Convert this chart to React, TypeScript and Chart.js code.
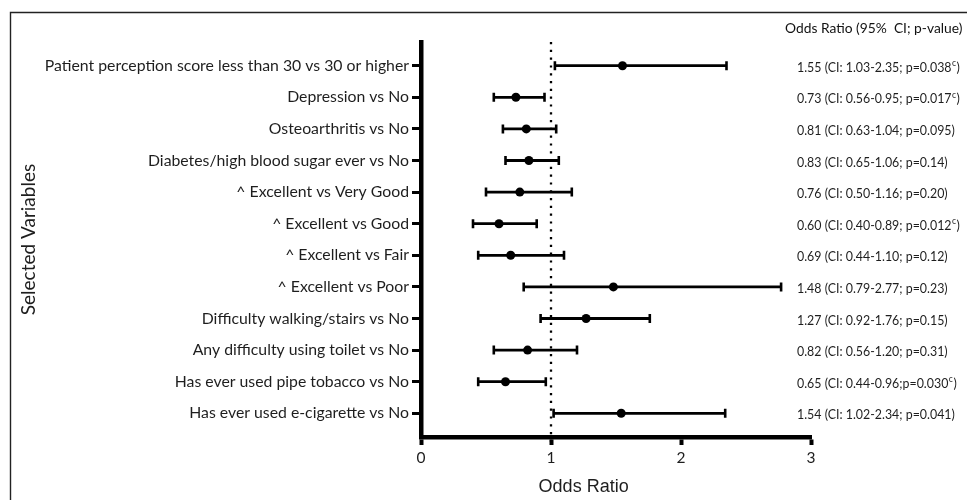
import React, { useEffect, useRef } from "react";
import { Chart, registerables } from "chart.js";

Chart.register(...registerables);

// ---- Data ----
const variables = [
  "Patient perception score less than 30 vs 30 or higher",
  "Depression vs No",
  "Osteoarthritis vs No",
  "Diabetes/high blood sugar ever vs No",
  "^ Excellent vs Very Good",
  "^ Excellent vs Good",
  "^ Excellent vs Fair",
  "^ Excellent vs Poor",
  "Difficulty walking/stairs vs No",
  "Any difficulty using toilet vs No",
  "Has ever used pipe tobacco vs No",
  "Has ever used e-cigarette vs No",
];
const oddsRatios = [1.55, 0.73, 0.81, 0.83, 0.76, 0.6, 0.69, 1.48, 1.27, 0.82, 0.65, 1.54];
const ciLower = [1.03, 0.56, 0.63, 0.65, 0.5, 0.4, 0.44, 0.79, 0.92, 0.56, 0.44, 1.02];
const ciUpper = [2.35, 0.95, 1.04, 1.06, 1.16, 0.89, 1.1, 2.77, 1.76, 1.2, 0.96, 2.34];
const annotationTexts = [
  "1.55 (CI: 1.03-2.35; p=0.038",
  "0.73 (CI: 0.56-0.95; p=0.017",
  "0.81 (CI: 0.63-1.04; p=0.095",
  "0.83 (CI: 0.65-1.06; p=0.14",
  "0.76 (CI: 0.50-1.16; p=0.20",
  "0.60 (CI: 0.40-0.89; p=0.012",
  "0.69 (CI: 0.44-1.10; p=0.12",
  "1.48 (CI: 0.79-2.77; p=0.23",
  "1.27 (CI: 0.92-1.76; p=0.15",
  "0.82 (CI: 0.56-1.20; p=0.31",
  "0.65 (CI: 0.44-0.96;p=0.030",
  "1.54 (CI: 1.02-2.34; p=0.041",
];
const annotationSignificant = [true, true, false, false, false, true, false, false, false, false, true, false];
const annotationHeader = "Odds Ratio (95%  CI; p-value)";
const xTickValues = [0, 1, 2, 3];
const referenceValue = 1;
const xTitle = "Odds Ratio";
const yTitle = "Selected Variables";

const TEXT = "#1e1e1e";
const LABEL_FONT = "Lato";

const overlayPlugin = {
  id: "overlay",
  beforeDraw(chart: any) {
    const ctx = chart.ctx;
    ctx.save();
    ctx.fillStyle = "#fff";
    ctx.fillRect(0, 0, chart.width, chart.height);
    ctx.strokeStyle = "#222";
    ctx.lineWidth = 1.4;
    ctx.beginPath();
    ctx.moveTo(10.5, chart.height);
    ctx.lineTo(10.5, 12.5);
    ctx.lineTo(chart.width, 12.5);
    ctx.stroke();
    ctx.restore();
  },
  beforeDatasetsDraw(chart: any) {
    const ctx = chart.ctx;
    const xs = chart.scales.x;
    const ys = chart.scales.y;
    const area = chart.chartArea;
    ctx.save();
    // reference line
    const rx = xs.getPixelForValue(referenceValue);
    ctx.strokeStyle = "#000";
    ctx.lineWidth = 2.3;
    ctx.setLineDash([2.2, 5.6]);
    ctx.beginPath();
    ctx.moveTo(rx, area.top);
    ctx.lineTo(rx, area.bottom + 8);
    ctx.stroke();
    ctx.setLineDash([]);
    // error bars
    for (let i = 0; i < oddsRatios.length; i++) {
      const y = ys.getPixelForValue(i + 1);
      const x1 = xs.getPixelForValue(ciLower[i]);
      const x2 = xs.getPixelForValue(ciUpper[i]);
      ctx.lineWidth = 2.8;
      ctx.beginPath();
      ctx.moveTo(x1, y);
      ctx.lineTo(x2, y);
      ctx.stroke();
      ctx.lineWidth = 2.6;
      ctx.beginPath();
      ctx.moveTo(x1, y - 4.5);
      ctx.lineTo(x1, y + 4.5);
      ctx.moveTo(x2, y - 4.5);
      ctx.lineTo(x2, y + 4.5);
      ctx.stroke();
    }
    ctx.restore();
  },
  afterDraw(chart: any) {
    const ctx = chart.ctx;
    const ys = chart.scales.y;
    const area = chart.chartArea;
    ctx.save();
    // header
    ctx.fillStyle = "#111";
    ctx.textBaseline = "middle";
    ctx.textAlign = "left";
    ctx.font = `13.8px ${LABEL_FONT}`;
    ctx.fillText(annotationHeader, 785, 29);
    // annotations
    const mainFont = `12.4px ${LABEL_FONT}`;
    const supFont = `8.5px ${LABEL_FONT}`;
    for (let i = 0; i < annotationTexts.length; i++) {
      const y = ys.getPixelForValue(i + 1) + 2;
      let x = 797;
      ctx.font = mainFont;
      ctx.fillStyle = TEXT;
      ctx.fillText(annotationTexts[i], x, y);
      x += ctx.measureText(annotationTexts[i]).width;
      if (annotationSignificant[i]) {
        ctx.font = supFont;
        ctx.fillText("c", x + 0.5, y - 4);
        x += ctx.measureText("c").width + 1;
        ctx.font = mainFont;
      }
      ctx.fillText(")", x, y);
    }
    // x title
    ctx.font = `18px "Liberation Sans"`;
    ctx.textAlign = "center";
    ctx.fillStyle = TEXT;
    ctx.fillText(xTitle, area.left + (area.right - area.left) * 0.417, 487);
    ctx.restore();
  },
};

export default function App() {
  const ref = useRef<HTMLCanvasElement | null>(null);
  useEffect(() => {
    if (!ref.current) return;
    const chart = new Chart(ref.current, {
      type: "scatter",
      data: {
        datasets: [
          {
            data: oddsRatios.map((v, i) => ({ x: v, y: i + 1 })),
            pointRadius: 4.5,
            pointHoverRadius: 4.5,
            backgroundColor: "#000",
            borderColor: "#000",
            borderWidth: 0,
          },
        ],
      },
      options: {
        responsive: false,
        animation: false,
        events: [],
        layout: { padding: { left: 0, top: 42, right: 156, bottom: 0 } },
        plugins: { legend: { display: false }, tooltip: { enabled: false } },
        scales: {
          x: {
            type: "linear",
            min: 0,
            max: 3,
            afterBuildTicks: (s: any) => {
              s.ticks = xTickValues.map((v) => ({ value: v }));
            },
            afterFit: (s: any) => {
              s.height = 63;
            },
            ticks: {
              font: { family: LABEL_FONT, size: 15.5 },
              color: TEXT,
              padding: 4,
            },
            grid: {
              drawOnChartArea: false,
              drawTicks: true,
              tickLength: 8,
              tickWidth: 4,
              tickColor: "#000",
            },
            border: { display: true, width: 4.5, color: "#000" },
          },
          y: {
            type: "linear",
            min: 0.25,
            max: 12.75,
            reverse: true,
            afterBuildTicks: (s: any) => {
              s.ticks = variables.map((_, i) => ({ value: i + 1 }));
            },
            afterFit: (s: any) => {
              s.width = 421;
            },
            ticks: {
              autoSkip: false,
              callback: (v: any) => variables[Number(v) - 1] ?? "",
              font: { family: LABEL_FONT, size: 15.8 },
              color: TEXT,
              padding: 3,
            },
            grid: {
              drawOnChartArea: false,
              drawTicks: true,
              tickLength: 9,
              tickWidth: 3,
              tickColor: "#000",
            },
            border: { display: true, width: 4.5, color: "#000" },
            title: {
              display: true,
              text: yTitle,
              font: { family: LABEL_FONT, size: 19 },
              color: TEXT,
              padding: { top: 17, bottom: 0 },
            },
          },
        },
      },
      plugins: [overlayPlugin],
    });
    return () => chart.destroy();
  }, []);
  return (
    <div style={{ position: "fixed", left: 0, top: 0, width: 967, height: 500, background: "#fff" }}>
      <canvas ref={ref} width={967} height={500} style={{ display: "block" }} />
    </div>
  );
}
